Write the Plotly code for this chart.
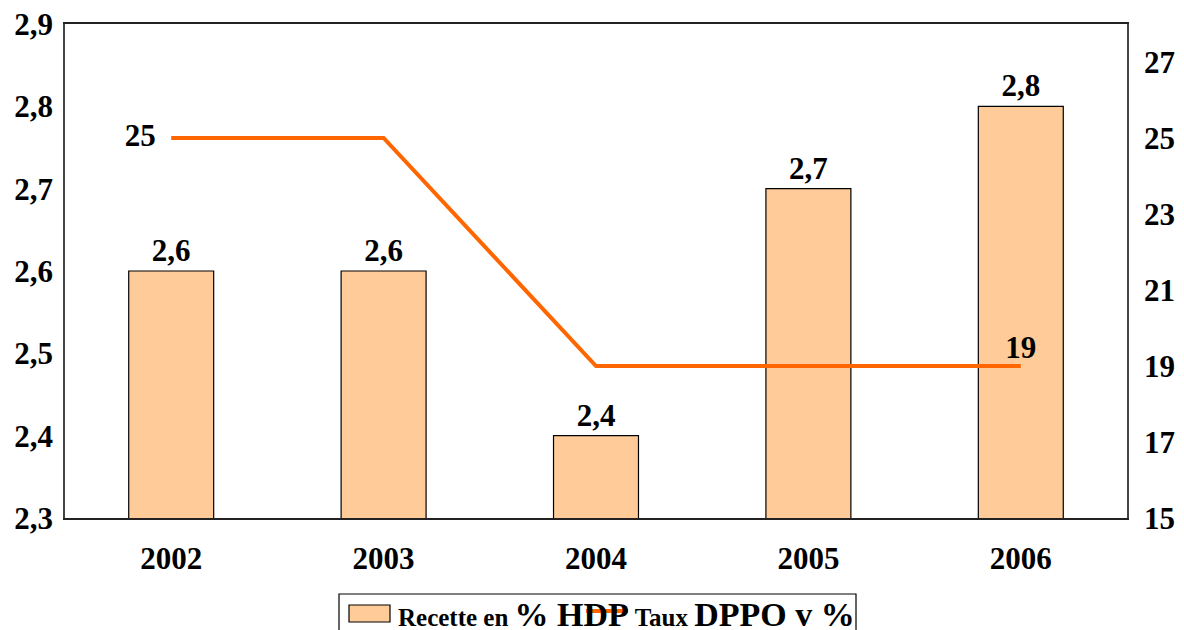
import plotly.graph_objects as go

years = ["2002", "2003", "2004", "2005", "2006"]
recette = [2.6, 2.6, 2.4, 2.7, 2.8]
taux = [25, 25, 19, 19, 19]
taux_labels = ["25\u00a0\u00a0", "", "", "", "19"]
left_ticks = [2.3, 2.4, 2.5, 2.6, 2.7, 2.8, 2.9]
right_ticks = [15, 17, 19, 21, 23, 25, 27]

FONT = "Liberation Serif"
L, R, T, B = 65, 57, 24, 112
W, H = 1184, 630
PW, PH = W - L - R, H - T - B

def px(x):
    return (x - L) / PW

def py(y):
    return (H - B - y) / PH

fig = go.Figure()
fig.add_trace(go.Bar(
    x=years, y=recette, width=0.4,
    marker=dict(color="#FFCC99", line=dict(color="#000000", width=1.2)),
    texttemplate="%{y:.1f}", textposition="outside", cliponaxis=False,
    textfont=dict(family=FONT, size=31, color="#000", weight="bold"),
    name="Recette en % HDP", showlegend=False,
))
fig.add_trace(go.Scatter(
    x=years, y=taux, yaxis="y2", mode="lines+text",
    line=dict(color="#FF6600", width=4),
    text=taux_labels,
    textposition=["middle left", "top center", "top center", "top center", "top center"],
    textfont=dict(family=FONT, size=31, color="#000", weight="bold"),
    cliponaxis=False, name="Taux DPPO v %", showlegend=False,
))

tf = dict(family=FONT, size=31, color="#000", weight="bold")
fig.update_layout(
    width=W, height=H, separators=", ",
    margin=dict(l=L, r=R, t=T, b=B, autoexpand=False),
    paper_bgcolor="white", plot_bgcolor="white",
    font=dict(family=FONT),
    bargap=0.6,
    xaxis=dict(showline=True, linecolor="#222", linewidth=1.5, mirror=True,
               showgrid=False, ticks="", tickfont=tf, ticklabelstandoff=12,
               automargin=False),
    yaxis=dict(range=[2.3, 2.9], tickvals=left_ticks, tickformat=".1f",
               showline=True, linecolor="#444", linewidth=1.5, showgrid=False,
               ticks="", tickfont=tf, zeroline=False, ticklabelstandoff=4,
               automargin=False),
    yaxis2=dict(range=[15, 28], tickvals=right_ticks, overlaying="y", side="right",
                showline=True, linecolor="#444", linewidth=1.5, showgrid=False,
                ticks="", tickfont=tf, zeroline=False, ticklabelstandoff=9,
                automargin=False),
    showlegend=False,
)

# legend box (drawn manually, cut off at bottom like the reference)
fig.add_shape(type="rect", xref="paper", yref="paper",
              x0=px(339), x1=px(856), y0=py(594), y1=py(660),
              line=dict(color="#000", width=1.2), fillcolor="white")
fig.add_shape(type="rect", xref="paper", yref="paper",
              x0=px(349), x1=px(390), y0=py(605), y1=py(622),
              line=dict(color="#000", width=1.2), fillcolor="#FFCC99")
fig.add_annotation(
    xref="paper", yref="paper", x=px(396), y=py(614), xanchor="left", yanchor="middle",
    showarrow=False,
    text="<b><span style='font-size:25px'>Recette en </span>% HDP"
         "<span style='font-size:25px'> Taux </span>DPPO v %</b>",
    font=dict(family=FONT, size=34, color="#000"),
)
fig.add_shape(type="line", xref="paper", yref="paper",
              x0=px(586), x1=px(628), y0=py(611), y1=py(611),
              line=dict(color="#FF6600", width=4))

fig.write_html("out.html", config={"displayModeBar": False},
               post_script="document.body.style.margin='0';document.body.style.overflow='hidden';")
